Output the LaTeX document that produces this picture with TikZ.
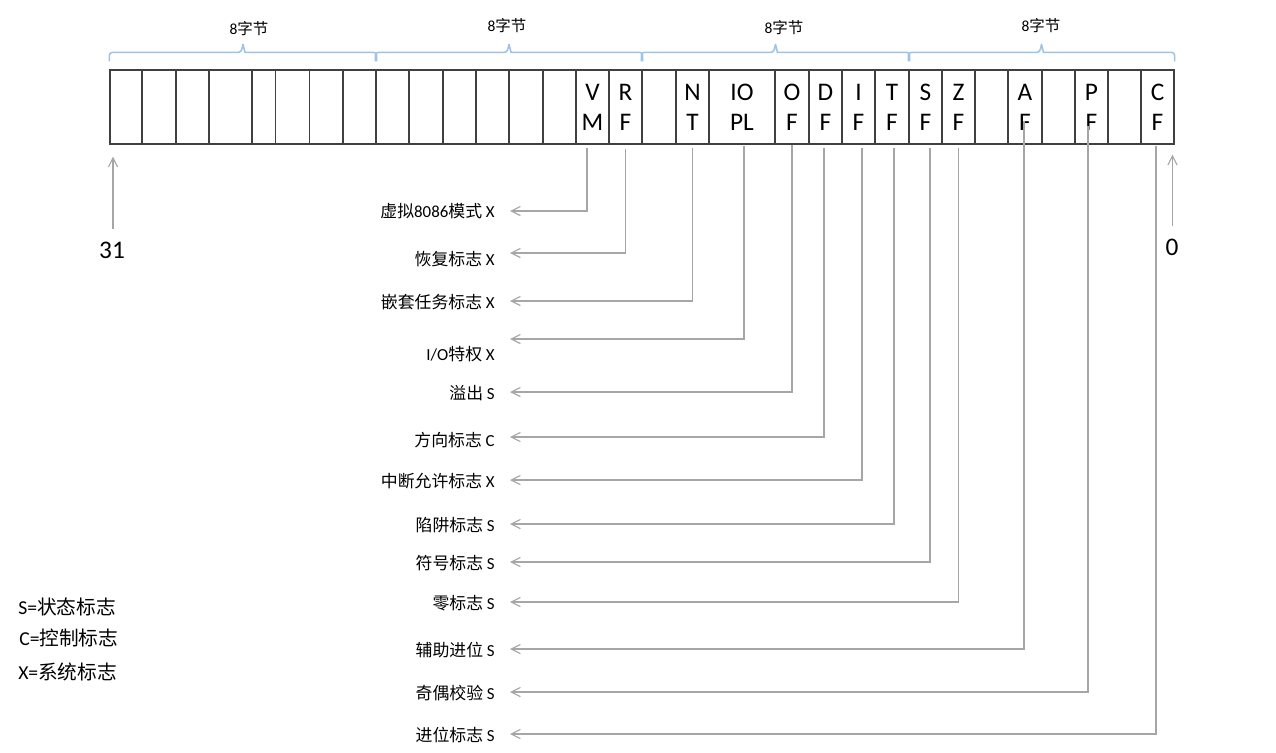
\documentclass[tikz,border=0pt]{standalone}
\usepackage{fontspec}
\setmainfont{Carlito}
\newfontfamily\cjk{Noto Sans CJK SC}
\usetikzlibrary{arrows.meta, calc}
\definecolor{regline}{RGB}{64,64,64}
\definecolor{wire}{RGB}{166,166,166}
\definecolor{bracecol}{RGB}{157,195,230}
\newcommand{\zh}[1]{{\cjk #1}}

\begin{document}
\begin{tikzpicture}[
  x=0.025cm, y=-0.025cm,
  cell/.style={
    rectangle, draw=regline, line width=0.8pt,
    minimum height=1.85cm, inner sep=0pt,
    align=center, font=\fontsize{18}{21.5}\selectfont,
  },
  flaglbl/.style={anchor=east, inner sep=0pt, font=\fontsize{12}{14}\selectfont},
  bytelbl/.style={inner sep=0pt, font=\fontsize{11}{13}\selectfont},
  legend/.style={anchor=west, inner sep=0pt, font=\fontsize{14}{16}\selectfont},
  bitnum/.style={inner sep=0pt, font=\fontsize{18}{21}\selectfont},
  wirearrow/.style={draw=wire, line width=0.8pt,
    -{Straight Barb[length=6.5pt,width=6.5pt]}},
  bytebrace/.style={draw=bracecol, line width=1.1pt, line join=round},
]
\useasboundingbox (0,0) rectangle (1276,752);

% -- register cells, bit 31 down to bit 0
\foreach \n/\l/\r/\t in {c31/110/142/{}, c30/142/176/{}, c29/176/209/{},
    c28/209/252/{}, c27/252/275.5/{}, c26/275.5/309.5/{}, c25/309.5/343/{},
    c24/343/376/{}, c23/376/409/{}, c22/409/443/{}, c21/443/476/{},
    c20/476/509/{}, c19/509/543/{}, c18/543/576/{}, vm/576/609/{V\\M},
    rf/609/642/{R\\F}, c15/642/676/{}, nt/676/709/{N\\T},
    iopl/709/775/{IO\\PL}, of/775/809/{O\\F}, df/809/842/{D\\F},
    intf/842/875/{I\\F}, tf/875/909/{T\\F}, sf/909/942/{S\\F},
    zf/942/975/{Z\\F}, c5/975/1008/{}, af/1008/1042/{A\\F},
    c3/1042/1075/{}, pf/1075/1108/{P\\F}, c1/1108/1141/{}, cf/1141/1174/{C\\F}}
  \node[cell, minimum width={(\r-\l)*0.025cm}] (\n) at ({(\l+\r)/2},107) {\t};

% -- byte braces
\foreach \a/\b in {c31/c24, c23/rf, c15/tf, sf/cf} {
  \coordinate (mid) at ($(\a.north west)!0.5!(\b.north east)$);
  \draw[bytebrace] ($(\a.north west)+(0,-8)$) [rounded corners=2pt]
    |- ($(mid)+(-2,-17)$) [sharp corners] -- ($(mid)+(0,-25)$)
    -- ($(mid)+(2,-17)$) [rounded corners=2pt] -| ($(\b.north east)+(0,-8)$);
}

\node[bytelbl] (by3) at (249,29) {8\zh{字节}};
\node[bytelbl] (by2) at (507,26) {8\zh{字节}};
\node[bytelbl] (by1) at (784,28) {8\zh{字节}};
\node[bytelbl] (by0) at (1041,26) {8\zh{字节}};

% -- bit numbers
\node[bitnum] (n31) at (112,250) {31};
\node[bitnum] (n0) at (1172,247) {0};
\draw[wirearrow] ($(n31.north)+(1,-12)$) -- ($(n31.north |- c31.south)+(1,12)$);
\draw[wirearrow] ($(n0.north)+(0.5,-12)$) -- ($(n0.north |- cf.south)+(0.5,10)$);

% -- flag names
\node[flaglbl] (lvm) at (495,211) {\zh{虚拟}8086\zh{模式} X};
\node[flaglbl] (lrf) at (495,259) {\zh{恢复标志} X};
\node[flaglbl] (lnt) at (495,302) {\zh{嵌套任务标志} X};
\node[flaglbl] (liopl) at (495,354) {I/O\zh{特权} X};
\node[flaglbl] (lof) at (495,393) {\zh{溢出} S};
\node[flaglbl] (ldf) at (495,440) {\zh{方向标志} C};
\node[flaglbl] (lintf) at (495,481) {\zh{中断允许标志} X};
\node[flaglbl] (ltf) at (495,525) {\zh{陷阱标志} S};
\node[flaglbl] (lsf) at (495,563) {\zh{符号标志} S};
\node[flaglbl] (lzf) at (495,603) {\zh{零标志} S};
\node[flaglbl] (laf) at (495,650) {\zh{辅助进位} S};
\node[flaglbl] (lpf) at (495,693) {\zh{奇偶校验} S};
\node[flaglbl] (lcf) at (495,735) {\zh{进位标志} S};

% -- flag connectors
\foreach \f/\dx/\dy/\ay in {vm/-5.5/3/0, rf/0/4/-6, nt/0/3/-1, iopl/2/1/-15,
    of/0/0/-1, df/-1.5/3/-3, intf/3.5/3/-1, tf/2/3/-1, sf/4.5/3/-1,
    zf/0/3/-1, af/-1/-24/-1, pf/-3.5/-19/-1, cf/-1.5/1/-1}
  \draw[wirearrow] ($(\f.south)+(\dx,\dy)$) |- ($(l\f.east)+(15,\ay)$);

% -- legend
\node[legend] (legs) at (18,607) {S=\zh{状态标志}};
\node[legend] (legc) at (19,638) {C=\zh{控制标志}};
\node[legend] (legx) at (18,672) {X=\zh{系统标志}};

\end{tikzpicture}
\end{document}
